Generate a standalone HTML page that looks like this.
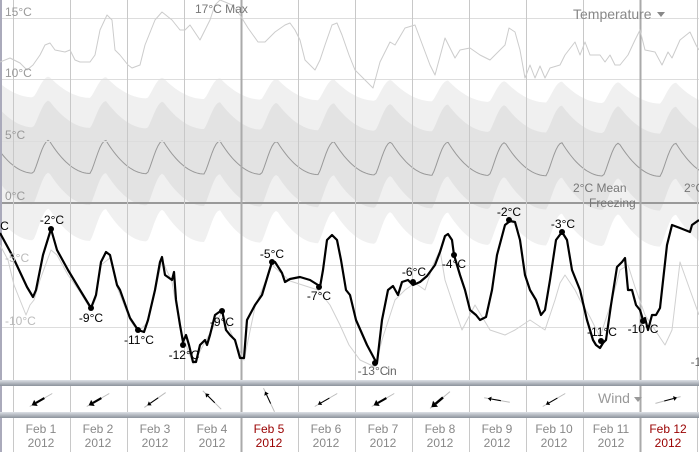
<!DOCTYPE html>
<html><head><meta charset="utf-8"><style>
body{margin:0;background:#fff;width:699px;height:452px;overflow:hidden;font-family:"Liberation Sans","DejaVu Sans",sans-serif}
svg{position:absolute;left:0;top:0}
</style></head><body>
<svg id="s" width="699" height="452" xmlns="http://www.w3.org/2000/svg" font-family="Liberation Sans, DejaVu Sans, sans-serif">
<defs>
<linearGradient id="sep" x1="0" y1="0" x2="0" y2="1"><stop offset="0" stop-color="#dde1e6"/><stop offset="1" stop-color="#8c939c"/></linearGradient>
</defs>
<g id="bands"></g>
<g stroke="#ddd" stroke-width="1">
<line x1="0" y1="18.5" x2="699" y2="18.5"/><line x1="0" y1="79.5" x2="699" y2="79.5"/><line x1="0" y1="141.5" x2="699" y2="141.5"/><line x1="0" y1="265.5" x2="699" y2="265.5"/><line x1="0" y1="327.5" x2="699" y2="327.5"/>
</g>
<line x1="0" y1="203" x2="699" y2="203" stroke="#999" stroke-width="2"/>
<g id="vl"></g>
<g id="lines"></g>
<g font-size="12" fill="#999">
<text x="5" y="16">15°C</text><text x="5" y="77">10°C</text><text x="5" y="139">5°C</text><text x="5" y="200">0°C</text>
<text x="5" y="262" fill="#bbb">-5°C</text><text x="5" y="325" fill="#bbb">-10°C</text>
<text x="195" y="13" fill="#777">17°C Max</text>
<text x="573" y="192" fill="#777">2°C Mean</text><text x="589" y="207" fill="#777">Freezing</text>
<text x="684" y="192" fill="#777">2°C</text>
<text x="573" y="19" font-size="14" fill="#888">Temperature</text>
<path d="M657 12 h8 l-4 5z" fill="#888"/>
</g>
<g font-size="12" fill="#000" text-anchor="middle">
<text x="2" y="230">°C</text>
<text x="52" y="224">-2°C</text><text x="91" y="322">-9°C</text><text x="139" y="344">-11°C</text><text x="184" y="359">-12°C</text>
<text x="222" y="326">-9°C</text><text x="272" y="258">-5°C</text><text x="319" y="300">-7°C</text>
<text x="373" y="375" fill="#666">-13°C</text><text x="392" y="375" fill="#666">in</text>
<text x="414" y="276">-6°C</text><text x="454" y="268">-4°C</text><text x="509" y="216">-2°C</text><text x="563" y="228">-3°C</text>
<text x="602" y="336">-11°C</text><text x="643" y="333">-10°C</text><text x="696" y="366" fill="#666">-1</text>
</g>
<rect x="0" y="380" width="699" height="6" fill="url(#sep)"/>
<rect x="0" y="412" width="699" height="6" fill="url(#sep)"/>
<g id="wind"></g>
<text x="598" y="403" font-size="14" fill="#999">Wind</text>
<path d="M634 397 h8 l-4 5z" fill="#999"/>
<g id="dates" font-size="12" text-anchor="middle" fill="#888"></g>
</svg>
<script>
const NS="http://www.w3.org/2000/svg";
function el(p,t,a){const e=document.createElementNS(NS,t);for(const k in a)e.setAttribute(k,a[k]);document.getElementById(p).appendChild(e);return e;}
function shp(x){let p=((x-33)%57+57)%57;if(p<16)return Math.pow(Math.sin(p/16*Math.PI/2),1.3);return Math.pow(1-(p-16)/41,2);}
function band(top0,topA,bot0,botA,trend){
 let a=[],b=[];
 for(let x=0;x<=700;x+=2){const t=x*trend;a.push([x,top0-topA*shp(x)+t]);b.push([x,bot0-botA*shp(x)+t]);}
 b.reverse();return "M"+a.concat(b).map(p=>p[0]+" "+p[1].toFixed(1)).join(" L")+"Z";
}
el("bands","path",{d:band(97,21,240,32,0.01),fill:"#f0f0f0"});
el("bands","path",{d:band(127,27,204,32,0.01),fill:"#e3e3e3"});
let m=[];for(let x=0;x<=700;x+=2)m.push([x,173-33*shp(x)+x*0.005]);
el("bands","path",{d:"M"+m.map(p=>p[0]+" "+p[1].toFixed(1)).join(" L"),fill:"none",stroke:"#999","stroke-width":1});
for(let i=0;i<13;i++){const x=13+57*i;const dark=(x==241||x==640);el("vl","line",{x1:x+.5,y1:0,x2:x+.5,y2:452,stroke:dark?"#aaa":"#c8c8c8","stroke-width":dark?2:1});}
el("vl","line",{x1:1,y1:0,x2:1,y2:452,stroke:"#aab","stroke-width":2});
function pl(pts,st,w){el("lines","polyline",{points:pts.map(p=>p.join(",")).join(" "),fill:"none",stroke:st,"stroke-width":w,"stroke-linejoin":"round"});}
const mx=[[0,62],[10,58],[20,63],[27,70],[33,65],[40,55],[45,45],[50,43],[55,50],[65,52],[70,50],[75,60],[80,62],[90,62],[95,55],[100,30],[107,15],[112,20],[115,50],[120,55],[128,65],[132,68],[140,65],[145,45],[155,20],[162,12],[172,20],[180,30],[185,30],[190,25],[200,40],[205,30],[210,20],[215,5],[220,0],[225,2],[232,5],[240,15],[248,28],[258,42],[265,42],[275,32],[285,25],[290,23],[295,30],[300,40],[305,60],[315,70],[320,60],[325,45],[332,25],[337,23],[342,35],[349,55],[355,70],[365,80],[373,88],[380,62],[390,42],[395,45],[405,28],[415,25],[430,65],[435,75],[445,38],[455,58],[460,50],[470,48],[480,55],[490,60],[495,55],[505,45],[509,28],[515,32],[520,50],[525,78],[530,65],[535,78],[540,66],[545,78],[550,68],[560,65],[565,55],[575,42],[580,55],[585,42],[590,55],[600,55],[605,62],[610,55],[615,65],[620,65],[628,55],[635,40],[640,30],[645,50],[655,52],[662,65],[668,52],[672,58],[680,40],[690,32],[696,45],[699,50]];
pl(mx,"#ccc",1);
const mn=[[0,245],[8,260],[14,285],[22,305],[26,315],[30,305],[34,300],[40,280],[51,250],[57,255],[68,275],[80,292],[91,310],[96,298],[101,265],[110,258],[117,287],[130,320],[138,332],[148,322],[155,292],[162,260],[172,282],[180,328],[193,364],[205,342],[222,312],[235,342],[244,360],[255,307],[272,265],[290,281],[318,290],[330,305],[340,325],[349,345],[360,360],[375,367],[382,340],[395,300],[405,290],[415,283],[425,290],[433,265],[440,250],[445,280],[455,310],[462,330],[475,305],[490,330],[505,335],[515,330],[530,320],[545,330],[555,300],[560,283],[565,275],[575,290],[580,300],[590,317],[600,337],[612,300],[620,270],[628,265],[635,287],[645,315],[655,330],[665,345],[672,330],[680,262],[690,290],[699,315]];
pl(mn,"#d0d0d0",1);
const bl=[[0,233],[12,255],[27,287],[33,297],[36,290],[43,255],[51,229],[57,250],[68,270],[80,290],[91,308],[96,295],[101,262],[106,252],[110,255],[117,285],[120,290],[130,318],[138,330],[144,332],[148,320],[155,290],[160,262],[162,257],[165,275],[172,280],[174,272],[176,300],[180,325],[183,342],[186,335],[189,345],[193,362],[196,362],[200,345],[205,340],[207,345],[210,335],[215,315],[222,310],[226,330],[230,335],[235,340],[240,358],[244,358],[247,320],[255,305],[262,295],[268,275],[272,262],[275,262],[282,273],[285,282],[290,279],[300,277],[310,280],[318,285],[320,287],[323,270],[327,240],[332,235],[337,240],[341,260],[346,290],[350,295],[356,320],[367,345],[375,360],[377,363],[382,320],[388,290],[393,286],[398,295],[402,282],[408,280],[413,285],[420,282],[427,276],[435,265],[440,252],[445,236],[448,234],[452,240],[454,255],[460,275],[465,290],[470,310],[476,315],[480,320],[486,317],[492,290],[497,255],[505,225],[510,221],[515,222],[520,240],[525,275],[530,290],[536,300],[541,315],[545,310],[550,280],[556,240],[562,232],[567,240],[572,270],[580,290],[587,320],[593,340],[596,345],[600,348],[603,343],[606,340],[611,305],[617,267],[622,262],[625,258],[628,290],[632,290],[636,305],[640,310],[643,320],[645,318],[648,330],[652,315],[656,315],[660,308],[667,245],[672,225],[680,228],[690,232],[692,225],[699,220]];
pl(bl,"#000",2.2);
[[51,229],[91,308],[138,330],[183,345],[222,311],[272,262],[319,287],[375,363],[413,282],[454,255],[509,220],[562,232],[601,341],[643,321]].forEach(p=>el("lines","circle",{cx:p[0],cy:p[1],r:3,fill:"#000"}));
const w=[[210,3],[210,3],[215,1.5],[135,1.5],[115,1.5],[210,1.5],[210,3],[220,3.5],[170,1.5],[210,1.5],null,[15,1.5]];
w.forEach((d,i)=>{if(!d)return;const cx=41+57*i,cy=400,a=d[0]*Math.PI/180,L=13;const dx=Math.cos(a)*L,dy=-Math.sin(a)*L;
el("wind","line",{x1:cx-dx,y1:cy-dy,x2:cx+dx,y2:cy+dy,stroke:"#bbb","stroke-width":1});
const hx=cx+dx*0.45,hy=cy+dy*0.45;el("wind","line",{x1:cx-dx*0.3,y1:cy-dy*0.3,x2:hx,y2:hy,stroke:"#000","stroke-width":d[1]*0.7});
const ux=dx/L,uy=dy/L,s=2+d[1];el("wind","path",{d:`M${hx+ux*s} ${hy+uy*s} L${hx-uy*s*0.7} ${hy+ux*s*0.7} L${hx+uy*s*0.7} ${hy-ux*s*0.7}Z`,fill:"#000"});});
for(let i=0;i<12;i++){const x=41+57*i;const red=(i==4||i==11);
const t1=el("dates","text",{x:x,y:433,fill:red?"#990000":"#888"});t1.textContent="Feb "+(i+1);
const t2=el("dates","text",{x:x,y:447,fill:red?"#990000":"#888"});t2.textContent="2012";}
</script>
</body></html>
